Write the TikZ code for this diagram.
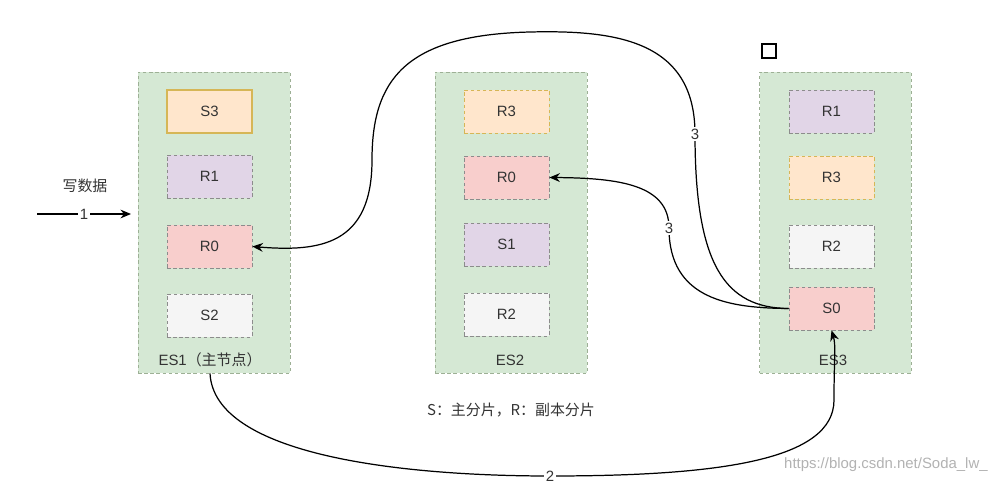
\documentclass[tikz,border=0pt]{standalone}
\usepackage{fontspec}
\setmainfont{Liberation Sans}
\newfontfamily\cjk{Noto Sans CJK SC}
\usetikzlibrary{arrows.meta}
\definecolor{esfill}{HTML}{D5E8D4}
\definecolor{esline}{HTML}{9DB095}
\definecolor{redfill}{HTML}{F8CECC}
\definecolor{purplefill}{HTML}{E1D5E7}
\definecolor{orangefill}{HTML}{FFE6CC}
\definecolor{orangeline}{HTML}{D6B656}
\definecolor{grayfill}{HTML}{F5F5F5}
\definecolor{shardline}{gray}{0.55}
\tikzset{
  txt/.style={font=\fontsize{8.5}{10}\selectfont,text=black!80},
  esbox/.style={draw=esline,dash pattern=on 2pt off 1.5pt,fill=esfill,minimum width=3.04cm,minimum height=6.02cm,inner sep=0pt},
  shard/.style={txt,draw=shardline,dash pattern=on 2pt off 1.5pt,minimum width=1.7cm,minimum height=0.86cm,inner sep=0pt},
  rshard/.style={shard,fill=redfill},
  pshard/.style={shard,fill=purplefill},
  oshard/.style={shard,fill=orangefill,draw=orangeline},
  gshard/.style={shard,fill=grayfill},
  lbl/.style={txt,fill=white,inner sep=0.8pt},
  link/.style={draw=black,line width=0.7pt,-{Stealth[length=6pt,width=5pt]}},
}

\begin{document}
\begin{tikzpicture}[x=0.02cm,y=-0.02cm]
  \clip (0,0) rectangle (998,483);
  % nodes
  \node[esbox] (es1) at (214,222.5) {};
  \node[esbox] (es2) at (511,222.5) {};
  \node[esbox] (es3) at (835.5,222.5) {};
  \node[oshard,solid,line width=0.7pt] (e1s3) at (209.5,111.5) {S3};
  \node[pshard] (e1r1) at (209.5,176.5) {R1};
  \node[rshard] (e1r0) at (209.5,246.5) {R0};
  \node[gshard] (e1s2) at (209.5,315.5) {S2};
  \node[oshard] (e2r3) at (506.5,111.5) {R3};
  \node[rshard] (e2r0) at (506.5,177.5) {R0};
  \node[pshard] (e2s1) at (506.5,244.5) {S1};
  \node[gshard] (e2r2) at (506.5,314.5) {R2};
  \node[pshard] (e3r1) at (831.5,111.5) {R1};
  \node[oshard] (e3r3) at (831.5,177.5) {R3};
  \node[gshard] (e3r2) at (831.5,246.5) {R2};
  \node[rshard] (e3s0) at (831.5,308.5) {S0};
  \node[txt] (l1) at (210,360) {ES1{\cjk（主节点）}};
  \node[txt] (l2) at (510,360) {ES2};
  \node[txt] (l3) at (833,360) {ES3};
  \node[txt] (write) at (85,186) {\cjk 写数据};
  \node[txt] (legend) at (511,410) {\cjk S：主分片，R：副本分片};
  \node[draw=black,line width=0.6pt,minimum size=0.28cm,inner sep=0pt] (sq) at (769,51) {};
  \node[txt,text=black!30,anchor=west] (mark) at (778,465) {https://blog.csdn.net/Soda\_lw\_};
  \coordinate (in) at (37,214);
  \coordinate (inend) at (131,214);
  % connectors
  \draw[link] (in) -- node[lbl] {1} (inend);
  \draw[link] (e3s0.west) .. controls (725,308) and (695,265) .. (695,134) node[lbl] {3}
    .. controls (695,40) and (615,30) .. (530,32)
    .. controls (405,35) and (372,80) .. (372,160)
    .. controls (372,245) and (320,252) .. (e1r0.east);
  \draw[link] (e3s0.west) .. controls (730,308) and (669,300) .. (669,228) node[lbl] {3}
    .. controls (669,185) and (620,178) .. (e2r0.east);
  \draw[link] (l1.south) .. controls (214,455) and (400,476) .. (550,476) node[lbl] {2}
    .. controls (720,476) and (834,460) .. (834,400)
    .. controls (834,360) and (836,345) .. (e3s0.south);
\end{tikzpicture}
\end{document}
